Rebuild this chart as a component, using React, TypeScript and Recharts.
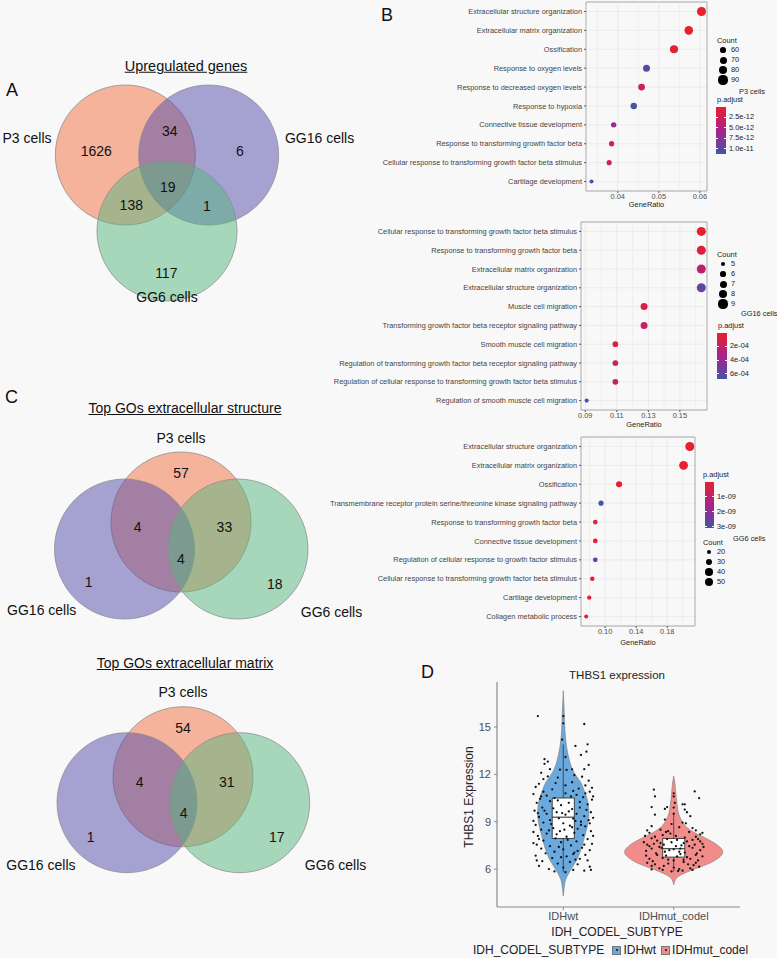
import React from "react";
import {
  ScatterChart,
  Scatter,
  ComposedChart,
  Area,
  XAxis,
  YAxis,
  ZAxis,
  Cell,
  CartesianGrid,
  ReferenceLine,
  ReferenceArea,
} from "recharts";

const FONT = '"Liberation Sans", Arial, Helvetica, sans-serif';
const BG = "#f8f8f8";
const SMALL = 7.4;

// ---------- Venn diagrams (centres and label spots in circle-radius units)
const vennNames = ["P3 cells", "GG16 cells", "GG6 cells"];
const vennFills = ["#F06E3C", "#524CAC", "#56B67E"];

const upCentres = [[-0.595, 0.543], [0.595, 0.543], [0, -0.543]];
const upCounts = [1626, 34, 6, 19, 138, 1, 117];
const upCountAt = [[-1.01, 0.6], [0.04, 0.89], [1.04, 0.6], [0.01, 0.09], [-0.51, -0.17], [0.57, -0.19], [-0.01, -1.14]];
const upNameAt = [[-2.0, 0.79], [2.18, 0.79], [0, -1.49]];

const ecsCentres = [[0, 0.257], [-0.807, -0.129], [0.814, -0.129]];
const ecsCounts = [57, 4, 33, 4, 1, 18];
const ecsCountAt = [[0, 0.957], [-0.62, 0.186], [0.62, 0.186], [0, -0.27], [-1.32, -0.6], [1.34, -0.63]];
const ecsNameAt = [[0, 1.457], [-1.99, -1.0], [2.15, -1.03]];

const ecmCentres = [[0, 0.247], [-0.8, -0.124], [0.81, -0.124]];
const ecmCounts = [54, 4, 31, 4, 1, 17];
const ecmCountAt = [[0, 0.95], [-0.62, 0.176], [0.625, 0.176], [0.01, -0.267], [-1.32, -0.61], [1.34, -0.61]];
const ecmNameAt = [[0, 1.46], [-2.03, -1.02], [2.18, -1.02]];

// ---------- GO dot plots
const p3Terms = [
  "Extracellular structure organization",
  "Extracellular matrix organization",
  "Ossification",
  "Response to oxygen levels",
  "Response to decreased oxygen levels",
  "Response to hypoxia",
  "Connective tissue development",
  "Response to transforming growth factor beta",
  "Cellular response to transforming growth factor beta stimulus",
  "Cartilage development",
];
const p3Ratio = [0.0604, 0.0573, 0.0537, 0.047, 0.0458, 0.0439, 0.039, 0.0385, 0.0379, 0.0336];
const p3Count = [90, 85, 80, 70, 68, 65, 58, 57, 56, 50];
const p3Padj = [2e-14, 5e-14, 4e-13, 1.0e-11, 2.8e-12, 1.12e-11, 6.7e-12, 1.3e-12, 2.0e-12, 1.1e-11];

const gg16Terms = [
  "Cellular response to transforming growth factor beta stimulus",
  "Response to transforming growth factor beta",
  "Extracellular matrix organization",
  "Extracellular structure organization",
  "Muscle cell migration",
  "Transforming growth factor beta receptor signaling pathway",
  "Smooth muscle cell migration",
  "Regulation of transforming growth factor beta receptor signaling pathway",
  "Regulation of cellular response to transforming growth factor beta stimulus",
  "Regulation of smooth muscle cell migration",
];
const gg16Ratio = [0.1636, 0.1636, 0.1636, 0.1636, 0.1273, 0.1273, 0.1091, 0.1091, 0.1091, 0.0909];
const gg16Count = [9, 9, 9, 9, 7, 7, 6, 6, 6, 5];
const gg16Padj = [1.2e-5, 6e-5, 2.4e-4, 5.7e-4, 8e-5, 2.2e-4, 6e-5, 2.0e-4, 1.8e-4, 6.73e-4];

const gg6Terms = [
  "Extracellular structure organization",
  "Extracellular matrix organization",
  "Ossification",
  "Transmembrane receptor protein serine/threonine kinase signaling pathway",
  "Response to transforming growth factor beta",
  "Connective tissue development",
  "Regulation of cellular response to growth factor stimulus",
  "Cellular response to transforming growth factor beta stimulus",
  "Cartilage development",
  "Collagen metabolic process",
];
const gg6Ratio = [0.209, 0.201, 0.118, 0.0948, 0.0874, 0.0874, 0.0874, 0.0835, 0.0796, 0.0757];
const gg6Count = [53, 51, 30, 24, 22, 22, 22, 21, 20, 19];
const gg6Padj = [1e-11, 2e-11, 5e-11, 3.07e-9, 1.5e-10, 1.2e-10, 2.3e-9, 2.5e-10, 1.8e-10, 1.3e-10];

// ---------- THBS1 violin
const groups = ["IDHwt", "IDHmut_codel"];
const groupFills = ["#6AA9DD", "#F28C8A"];
const violinY = [4.3, 4.7, 5.0, 5.2, 5.5, 5.9, 6.3, 6.7, 7.1, 7.5, 7.9, 8.3, 8.7, 9.1, 9.5, 10.0, 10.5, 11.0, 11.5, 11.9, 12.3, 12.9, 13.7, 14.8, 15.9, 17.3];
const wtHalf = [0, 0.006, 0.012, 0.016, 0.032, 0.062, 0.098, 0.13, 0.153, 0.172, 0.187, 0.203, 0.217, 0.227, 0.232, 0.228, 0.214, 0.188, 0.158, 0.118, 0.084, 0.055, 0.031, 0.015, 0.009, 0];
const mutHalf = [null, null, 0, 0.008, 0.035, 0.15, 0.302, 0.405, 0.445, 0.4, 0.305, 0.19, 0.11, 0.07, 0.045, 0.032, 0.023, 0.017, 0.01, 0, null, null, null, null, null, null];
const boxQ1 = [7.94, 6.76];
const boxMedian = [9.29, 7.29];
const boxQ3 = [10.5, 7.94];
const whiskerLow = [5.8, 5.85];
const whiskerHigh = [13.9, 9.6];

// [jitter, expression]
const wtPoints = [
  [-0.23, 15.69], [0.0, 15.69], [0.0, 15.23], [0.19, 15.19], [0.22, 13.9], [0.11, 13.8], [0.21, 13.44], [0.16, 13.23], [-0.01, 14.2], [0.02, 13.1],
  [-0.17, 12.96], [-0.14, 12.81], [-0.17, 12.67], [-0.12, 12.33], [-0.03, 12.3], [0.03, 12.28], [0.08, 12.32], [0.19, 12.33], [0.23, 12.6], [-0.2, 12.1],
  [-0.14, 11.87], [-0.22, 11.4], [-0.25, 11.2], [0.23, 11.6], [0.2, 11.3], [0.1, 11.95], [-0.05, 11.8], [0.08, 11.5], [0.14, 11.1], [-0.1, 11.05],
  [-0.18, 11.7], [0.26, 11.15], [0.02, 11.3], [-0.07, 11.45], [0.17, 11.85],
  [-0.18, 10.9], [0.24, 10.9], [-0.2, 10.6], [0.02, 10.8], [0.12, 10.7], [-0.08, 10.5], [0.26, 10.4], [0.18, 10.55], [-0.24, 10.2], [-0.12, 10.3],
  [0.05, 10.2], [0.22, 10.1], [-0.02, 10.05], [-0.27, 10.75], [0.09, 10.95], [-0.15, 10.65], [0.27, 10.6], [-0.05, 10.35], [0.15, 10.25], [-0.21, 10.45],
  [0.07, 10.6], [0.2, 10.8],
  [0.15, 9.9], [-0.19, 9.9], [-0.26, 9.7], [0.08, 9.8], [-0.06, 9.6], [0.25, 9.6], [0.12, 9.5], [-0.15, 9.5], [0.02, 9.45], [0.19, 9.35],
  [-0.22, 9.3], [-0.04, 9.22], [0.09, 9.2], [-0.12, 9.1], [0.23, 9.1], [0.16, 9.0], [-0.27, 9.05], [0.05, 9.65], [-0.09, 9.85], [0.27, 9.25],
  [-0.17, 9.7], [0.11, 9.05], [-0.01, 9.55], [0.21, 9.75], [-0.23, 9.55],
  [-0.18, 8.95], [0.0, 8.9], [-0.25, 8.8], [0.06, 8.75], [0.2, 8.7], [-0.09, 8.6], [-0.2, 8.5], [0.13, 8.55], [0.25, 8.4], [-0.03, 8.4],
  [0.1, 8.3], [-0.15, 8.25], [0.18, 8.15], [-0.23, 8.1], [0.03, 8.05], [-0.11, 8.85], [0.24, 8.9], [-0.27, 8.35], [0.08, 8.65], [-0.06, 8.2],
  [0.16, 8.8], [0.27, 8.1], [-0.13, 8.45], [0.01, 8.5],
  [-0.07, 7.95], [0.22, 7.9], [-0.18, 7.8], [0.12, 7.75], [-0.02, 7.7], [0.26, 7.6], [-0.24, 7.55], [0.07, 7.5], [-0.12, 7.45], [0.17, 7.35],
  [-0.2, 7.3], [0.0, 7.25], [0.24, 7.2], [-0.08, 7.1], [0.1, 7.05], [-0.16, 7.0], [-0.27, 7.65], [0.04, 7.85], [0.19, 7.55], [-0.04, 7.4],
  [0.13, 7.15], [-0.22, 7.9],
  [0.2, 6.9], [-0.25, 6.85], [0.03, 6.8], [-0.1, 6.7], [0.15, 6.65], [0.22, 6.55], [-0.19, 6.5], [0.06, 6.45], [-0.05, 6.35], [0.13, 6.3],
  [-0.22, 6.2], [0.24, 6.15], [0.0, 6.1], [-0.13, 6.0], [0.09, 6.95], [-0.24, 6.55], [0.11, 6.6], [-0.02, 6.75],
  [0.09, 5.95], [0.19, 5.9], [-0.08, 5.85], [0.25, 5.95], [0.02, 5.8],
];
const mutPoints = [
  [-0.18, 11.03], [-0.17, 10.6], [0.19, 10.92], [0.23, 10.5], [0.0, 10.8], [0.0, 10.6], [-0.2, 9.93], [-0.08, 9.81], [-0.06, 9.93], [0.08, 10.1],
  [0.1, 10.1], [0.01, 10.2], [-0.17, 9.45], [0.1, 9.77], [0.15, 9.35], [0.0, 9.9], [0.0, 9.5], [-0.08, 9.14], [0.12, 9.6],
  [-0.2, 8.72], [0.11, 8.9], [-0.12, 8.5], [0.05, 8.65], [0.2, 8.45], [-0.02, 8.85], [0.17, 8.6], [-0.24, 8.45], [0.08, 8.95], [-0.05, 8.4],
  [-0.22, 8.3], [0.24, 8.2], [-0.1, 8.15], [0.14, 8.35], [0.02, 8.1], [-0.17, 8.05], [0.2, 8.05], [-0.03, 8.25], [0.1, 8.0], [-0.26, 8.1],
  [0.26, 8.3], [-0.07, 8.35],
  [-0.2, 7.95], [0.22, 7.9], [-0.15, 7.8], [0.12, 7.75], [-0.02, 7.7], [0.26, 7.6], [-0.24, 7.55], [0.07, 7.5], [-0.12, 7.65], [0.17, 7.85],
  [-0.06, 7.9], [0.03, 7.85], [0.19, 7.55], [-0.27, 7.7], [0.09, 7.65], [-0.09, 7.55], [0.24, 7.75], [-0.18, 7.6],
  [0.02, 7.45], [-0.13, 7.4], [0.17, 7.35], [-0.2, 7.3], [0.0, 7.25], [0.24, 7.2], [-0.08, 7.1], [0.1, 7.05], [-0.16, 7.0], [0.06, 7.3],
  [-0.25, 7.15], [0.14, 7.45], [-0.04, 7.2], [0.21, 7.0], [-0.11, 7.35], [0.27, 7.4], [-0.22, 7.45], [0.05, 7.1],
  [0.2, 6.9], [-0.25, 6.85], [0.03, 6.8], [-0.1, 6.7], [0.15, 6.65], [0.22, 6.55], [-0.19, 6.5], [0.06, 6.95], [-0.05, 6.6], [0.12, 6.75],
  [-0.15, 6.9], [0.26, 6.8], [-0.22, 6.65], [0.0, 6.55], [0.09, 6.6], [-0.07, 6.85],
  [-0.05, 6.35], [0.13, 6.3], [-0.2, 6.2], [0.23, 6.15], [0.0, 6.1], [-0.13, 6.05], [0.09, 6.45], [-0.24, 6.4], [0.18, 6.25], [-0.09, 6.2],
  [0.05, 6.0], [0.2, 6.4], [-0.17, 6.3], [0.15, 6.05],
  [-0.1, 5.95], [0.08, 5.9], [-0.02, 5.85], [0.17, 5.95], [-0.2, 5.98], [0.04, 5.88],
];

// ---------- helpers
const P_STOPS = [[232, 32, 46], [168, 34, 138], [69, 85, 165]];
function pColor(v: number, lo: number, hi: number) {
  const t = Math.max(0, Math.min(1, (v - lo) / (hi - lo)));
  const seg = t < 0.5 ? 0 : 1;
  const f = seg === 0 ? t / 0.5 : (t - 0.5) / 0.5;
  const a = P_STOPS[seg];
  const b = P_STOPS[seg + 1];
  return `rgb(${a.map((c, k) => Math.round(c + (b[k] - c) * f)).join(",")})`;
}
const GRADIENT = `linear-gradient(to bottom, rgb(${P_STOPS[0]}), rgb(${P_STOPS[1]}), rgb(${P_STOPS[2]}))`;

const SIZE_RANGE = [13, 64];
function dotDiameter(v: number, dom: number[]) {
  const area = SIZE_RANGE[0] + ((v - dom[0]) / (dom[1] - dom[0])) * (SIZE_RANGE[1] - SIZE_RANGE[0]);
  return 2 * Math.sqrt(area / Math.PI);
}

function Txt({ x, y, size, children, anchor = "start", underline = false, rotate = false, color = "#111" }: any) {
  const tx = anchor === "middle" ? "-50%" : "0";
  return (
    <div
      style={{
        position: "absolute",
        left: x,
        top: y,
        fontSize: size,
        lineHeight: 1,
        color,
        whiteSpace: "nowrap",
        textDecoration: underline ? "underline" : "none",
        transform: `translate(${tx}, -50%)${rotate ? " rotate(-90deg)" : ""}`,
      }}
    >
      {children}
    </div>
  );
}

const UNIT = 70;
const VX = [-2.8, 2.8];
const VY = [-1.9, 1.9];

function Venn({ ox, oy, centres, counts, countAt, nameAt }: any) {
  const width = UNIT * (VX[1] - VX[0]);
  const height = UNIT * (VY[1] - VY[0]);
  const radius = width / (VX[1] - VX[0]);
  const circles = centres.map(([x, y]: number[], i: number) => ({ x, y, fill: vennFills[i] }));
  const numbers = counts.map((n: number, i: number) => ({ x: countAt[i][0], y: countAt[i][1], text: String(n) }));
  const names = vennNames.map((t, i) => ({ x: nameAt[i][0], y: nameAt[i][1], text: t }));
  const label = (p: any) => (
    <text x={p.cx} y={p.cy} dy="0.36em" textAnchor="middle" fontSize={14} fill="#111">
      {p.payload.text}
    </text>
  );
  return (
    <div style={{ position: "absolute", left: ox - width / 2, top: oy - height / 2 }}>
      <ScatterChart width={width} height={height} margin={{ top: 0, right: 0, bottom: 0, left: 0 }}>
        <XAxis type="number" dataKey="x" domain={VX} hide allowDataOverflow />
        <YAxis type="number" dataKey="y" domain={VY} hide allowDataOverflow />
        <Scatter
          data={circles}
          isAnimationActive={false}
          shape={(p: any) => (
            <circle cx={p.cx} cy={p.cy} r={radius} fill={p.payload.fill} fillOpacity={0.5} stroke="#8c8c8c" strokeOpacity={0.75} strokeWidth={1} />
          )}
        />
        <Scatter data={numbers} isAnimationActive={false} shape={label} />
        <Scatter data={names} isAnimationActive={false} shape={label} />
      </ScatterChart>
    </div>
  );
}

function DotPlot({ left, top, width, height, axisW, terms, ratio, count, padj, domain, ticks, minor, sizeDomain }: any) {
  const pMin = Math.min(...padj);
  const pMax = Math.max(...padj);
  const rows = terms.map((term: string, i: number) => ({
    term,
    ratio: ratio[i],
    count: count[i],
    color: pColor(padj[i], pMin, pMax),
  }));
  const termTick = (p: any) => (
    <text x={p.x} y={p.y} dy="0.35em" textAnchor="end" fontSize={SMALL} fill="#444">
      {p.payload.value}
    </text>
  );
  return (
    <div style={{ position: "absolute", left, top }}>
      <ScatterChart width={width} height={height} margin={{ top: 2, right: 3, bottom: 0, left: 0 }}>
        <CartesianGrid vertical={false} stroke="#e6e6e6" strokeWidth={0.7} />
        {[...ticks, ...minor].map((v: number) => (
          <ReferenceLine key={v} x={v} stroke="#e6e6e6" strokeWidth={ticks.includes(v) ? 0.8 : 0.5} />
        ))}
        <ReferenceArea x1={domain[0]} x2={domain[1]} fill="none" stroke="#a3a3a3" strokeWidth={0.9} />
        <XAxis
          type="number"
          dataKey="ratio"
          domain={domain}
          ticks={ticks}
          interval={0}
          allowDataOverflow
          tickFormatter={(v: number) => v.toFixed(2)}
          axisLine={false}
          tickSize={2}
          tickMargin={1}
          tickLine={{ stroke: "#555" }}
          tick={{ fontSize: SMALL, fill: "#4d4d4d" }}
          height={18}
        />
        <YAxis
          type="category"
          dataKey="term"
          reversed
          interval={0}
          width={axisW}
          axisLine={false}
          tickSize={2}
          tickMargin={2}
          tickLine={{ stroke: "#555" }}
          tick={termTick}
        />
        <ZAxis type="number" dataKey="count" domain={sizeDomain} range={SIZE_RANGE} />
        <Scatter data={rows} isAnimationActive={false}>
          {rows.map((r: any, i: number) => (
            <Cell key={i} fill={r.color} />
          ))}
        </Scatter>
      </ScatterChart>
    </div>
  );
}

function SizeKey({ x, y, breaks, dom, dotCol = 12 }: any) {
  return (
    <div style={{ position: "absolute", left: x, top: y, fontSize: SMALL, color: "#222", lineHeight: "8px" }}>
      <div>Count</div>
      {breaks.map((b: number) => {
        const d = dotDiameter(b, dom);
        return (
          <div key={b} style={{ display: "flex", alignItems: "center", height: 10 }}>
            <div style={{ width: dotCol, display: "flex", justifyContent: "center" }}>
              <div style={{ width: d, height: d, borderRadius: "50%", background: "#000" }} />
            </div>
            <span style={{ marginLeft: 2 }}>{b}</span>
          </div>
        );
      })}
    </div>
  );
}

function PadjKey({ x, y, barX, barTop, barW, barH, values, labels, padj }: any) {
  const lo = Math.min(...padj);
  const hi = Math.max(...padj);
  return (
    <>
      <Txt x={x} y={y} size={SMALL} color="#222">p.adjust</Txt>
      <div style={{ position: "absolute", left: barX, top: barTop, width: barW, height: barH, background: GRADIENT }} />
      {values.map((v: number, i: number) => {
        const yy = barTop + ((v - lo) / (hi - lo)) * barH;
        return (
          <React.Fragment key={v}>
            <div style={{ position: "absolute", left: barX, top: yy - 0.5, width: 2, height: 1, background: "#fff" }} />
            <div style={{ position: "absolute", left: barX + barW - 2, top: yy - 0.5, width: 2, height: 1, background: "#fff" }} />
            <Txt x={barX + barW + 3} y={yy} size={SMALL} color="#222">{labels[i]}</Txt>
          </React.Fragment>
        );
      })}
    </>
  );
}

const BOX = 0.1;

function ViolinPanel() {
  const rows = violinY.map((y, i) => ({
    y,
    wt: wtHalf[i] == null ? [null, null] : [1 - (wtHalf[i] as number), 1 + (wtHalf[i] as number)],
    mut: mutHalf[i] == null ? [null, null] : [2 - (mutHalf[i] as number), 2 + (mutHalf[i] as number)],
  }));
  const pts = [
    ...wtPoints.map(([j, v]) => ({ x: 1 + j, y: v })),
    ...mutPoints.map(([j, v]) => ({ x: 2 + j, y: v })),
  ];
  const W = 310;
  const H = 260;
  const xDom = [0.4, 2.6];
  const yDom = [3.6, 17.85];
  return (
    <>
      <div style={{ position: "absolute", left: 440, top: 672 }}>
        <ComposedChart layout="vertical" width={W} height={H} data={rows} margin={{ top: 10, right: 10, bottom: 25, left: 57 }}>
          <XAxis type="number" domain={xDom} hide allowDataOverflow />
          <YAxis type="number" dataKey="y" domain={yDom} hide allowDataOverflow reversed />
          <Area dataKey="wt" type="monotone" connectNulls fill={groupFills[0]} fillOpacity={1} stroke="#7a7a7a" strokeWidth={0.6} dot={false} activeDot={false} isAnimationActive={false} />
          <Area dataKey="mut" type="monotone" connectNulls fill={groupFills[1]} fillOpacity={1} stroke="#7a7a7a" strokeWidth={0.6} dot={false} activeDot={false} isAnimationActive={false} />
          {groups.map((g, i) => (
            <ReferenceLine key={"lo" + g} segment={[{ x: i + 1, y: whiskerLow[i] }, { x: i + 1, y: boxQ1[i] }]} stroke="#333" strokeWidth={0.8} />
          ))}
          {groups.map((g, i) => (
            <ReferenceLine key={"hi" + g} segment={[{ x: i + 1, y: boxQ3[i] }, { x: i + 1, y: whiskerHigh[i] }]} stroke="#333" strokeWidth={0.8} />
          ))}
          {groups.map((g, i) => (
            <ReferenceArea key={"box" + g} x1={i + 1 - BOX} x2={i + 1 + BOX} y1={boxQ1[i]} y2={boxQ3[i]} fill="#fff" fillOpacity={1} stroke="#222" strokeWidth={0.8} />
          ))}
          {groups.map((g, i) => (
            <ReferenceLine key={"med" + g} segment={[{ x: i + 1 - BOX, y: boxMedian[i] }, { x: i + 1 + BOX, y: boxMedian[i] }]} stroke="#222" strokeWidth={1} />
          ))}
        </ComposedChart>
      </div>
      <div style={{ position: "absolute", left: 440, top: 672 }}>
        <ScatterChart width={W} height={H} margin={{ top: 10, right: 10, bottom: 0, left: 0 }}>
          <XAxis
            type="number"
            dataKey="x"
            domain={xDom}
            ticks={[1, 2]}
            allowDataOverflow
            tickFormatter={(v: number) => groups[v - 1]}
            height={25}
            axisLine={{ stroke: "#8a8a8a", strokeWidth: 1.2 }}
            tickLine={{ stroke: "#8a8a8a" }}
            tickSize={3}
            tickMargin={2}
            tick={{ fontSize: 11, fill: "#4d4d4d" }}
          />
          <YAxis
            type="number"
            dataKey="y"
            domain={yDom}
            ticks={[6, 9, 12, 15]}
            allowDataOverflow
            width={57}
            axisLine={{ stroke: "#8a8a8a", strokeWidth: 1.2 }}
            tickLine={{ stroke: "#8a8a8a" }}
            tickSize={3}
            tickMargin={3}
            tick={{ fontSize: 11, fill: "#4d4d4d" }}
          />
          <Scatter data={pts} isAnimationActive={false} shape={(p: any) => <circle cx={p.cx} cy={p.cy} r={1.15} fill="#111" />} />
        </ScatterChart>
      </div>
      <Txt x={617} y={676} size={11.5} anchor="middle" color="#222">THBS1 expression</Txt>
      <Txt x={469} y={797} size={12} anchor="middle" rotate color="#222">THBS1 Expression</Txt>
      <Txt x={617} y={932} size={12} anchor="middle" color="#222">IDH_CODEL_SUBTYPE</Txt>
      <div style={{ position: "absolute", left: 473, top: 943, display: "flex", alignItems: "center", fontSize: 12, color: "#222", lineHeight: "14px" }}>
        <span>IDH_CODEL_SUBTYPE</span>
        {groups.map((g, i) => (
          <React.Fragment key={g}>
            <span
              style={{
                marginLeft: i === 0 ? 8 : 5,
                width: 7,
                height: 7,
                background: groupFills[i],
                border: "0.5px solid #777",
                display: "inline-flex",
                alignItems: "center",
                justifyContent: "center",
              }}
            >
              <span style={{ width: 2, height: 2, background: "#111", borderRadius: 1 }} />
            </span>
            <span style={{ marginLeft: 2 }}>{g}</span>
          </React.Fragment>
        ))}
      </div>
    </>
  );
}

export default function App() {
  return (
    <div
      style={{
        position: "absolute",
        left: 0,
        top: 0,
        width: 777,
        height: 958,
        overflow: "hidden",
        background: BG,
        fontFamily: FONT,
      }}
    >
      {/* A */}
      <Venn ox={167} oy={193} centres={upCentres} counts={upCounts} countAt={upCountAt} nameAt={upNameAt} />
      <Txt x={6} y={90} size={18}>A</Txt>
      <Txt x={186} y={66} size={14.5} anchor="middle" underline>Upregulated genes</Txt>

      {/* C */}
      <Venn ox={180.5} oy={540} centres={ecsCentres} counts={ecsCounts} countAt={ecsCountAt} nameAt={ecsNameAt} />
      <Venn ox={183.3} oy={794.3} centres={ecmCentres} counts={ecmCounts} countAt={ecmCountAt} nameAt={ecmNameAt} />
      <Txt x={5} y={397} size={18}>C</Txt>
      <Txt x={185} y={408} size={14} anchor="middle" underline>Top GOs extracellular structure</Txt>
      <Txt x={185} y={663} size={14} anchor="middle" underline>Top GOs extracellular matrix</Txt>

      {/* B */}
      <Txt x={381} y={15} size={18}>B</Txt>
      <DotPlot
        left={330} top={0} width={380} height={209} axisW={256}
        terms={p3Terms} ratio={p3Ratio} count={p3Count} padj={p3Padj}
        domain={[0.03226, 0.06174]} ticks={[0.04, 0.05, 0.06]} minor={[0.035, 0.045, 0.055]} sizeDomain={[50, 90]}
      />
      <Txt x={646.5} y={205} size={SMALL} anchor="middle" color="#222">GeneRatio</Txt>
      <SizeKey x={717} y={37} breaks={[60, 70, 80, 90]} dom={[50, 90]} />
      <Txt x={739} y={92} size={SMALL} color="#222">P3 cells</Txt>
      <PadjKey x={717} y={100} barX={716} barTop={107} barW={10} barH={47}
        values={[2.5e-12, 5e-12, 7.5e-12, 1e-11]} labels={["2.5e-12", "5.0e-12", "7.5e-12", "1.0e-11"]} padj={p3Padj} />

      <DotPlot
        left={330} top={220} width={380} height={208} axisW={251}
        terms={gg16Terms} ratio={gg16Ratio} count={gg16Count} padj={gg16Padj}
        domain={[0.0873, 0.1672]} ticks={[0.09, 0.11, 0.13, 0.15]} minor={[0.1, 0.12, 0.14, 0.16]} sizeDomain={[5, 9]}
      />
      <Txt x={644} y={425} size={SMALL} anchor="middle" color="#222">GeneRatio</Txt>
      <SizeKey x={717} y={251} breaks={[5, 6, 7, 8, 9]} dom={[5, 9]} />
      <Txt x={741} y={314} size={SMALL} color="#222">GG16 cells</Txt>
      <PadjKey x={718} y={326} barX={717} barTop={333} barW={10} barH={46}
        values={[2e-4, 4e-4, 6e-4]} labels={["2e-04", "4e-04", "6e-04"]} padj={gg16Padj} />

      <DotPlot
        left={330} top={435} width={368} height={209} axisW={251}
        terms={gg6Terms} ratio={gg6Ratio} count={gg6Count} padj={gg6Padj}
        domain={[0.069, 0.2157]} ticks={[0.1, 0.14, 0.18]} minor={[0.08, 0.12, 0.16, 0.2]} sizeDomain={[19, 53]}
      />
      <Txt x={638} y={643} size={SMALL} anchor="middle" color="#222">GeneRatio</Txt>
      <PadjKey x={703} y={475} barX={705} barTop={482} barW={9} barH={46}
        values={[1e-9, 2e-9, 3e-9]} labels={["1e-09", "2e-09", "3e-09"]} padj={gg6Padj} />
      <Txt x={733} y={539} size={SMALL} color="#222">GG6 cells</Txt>
      <SizeKey x={703} y={539} breaks={[20, 30, 40, 50]} dom={[19, 53]} />

      {/* D */}
      <Txt x={421} y={672} size={18}>D</Txt>
      <ViolinPanel />
    </div>
  );
}
